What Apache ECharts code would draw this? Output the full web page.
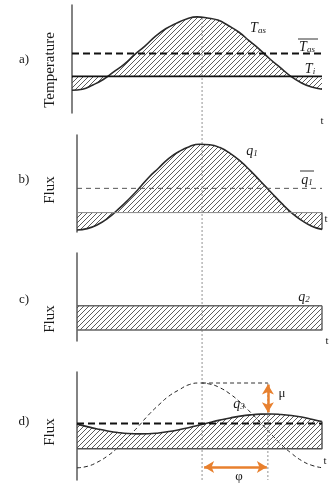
<!DOCTYPE html>
<html>
<head>
<meta charset="utf-8">
<script src="https://cdn.jsdelivr.net/npm/echarts@6/dist/echarts.min.js"></script>
<style>
  html, body { margin: 0; padding: 0; background: #ffffff; }
  #chart { width: 330px; height: 488px; }
</style>
</head>
<body>
<div id="chart"></div>
<script>
// time axis, hours of the day
const hours = [0, 1, 2, 3, 4, 5, 6, 7, 8, 9, 10, 11, 12, 13, 14, 15, 16, 17, 18, 19, 20, 21, 22, 23, 24];

// a) outside surface temperature T_as
const tasValues = [21, 22, 26, 31, 38, 45, 54, 62, 71, 78, 83, 87, 89, 88, 86, 81, 75, 67, 59, 50, 42, 34, 28, 24, 22];
const tiLevel = 34;
const tasMean = 55;

// b) flux q1
const q1Values = [2, 3.5, 7.5, 14, 23, 33, 44, 56, 66, 76, 83, 88, 90.5, 90, 87, 81, 73, 63, 52, 41, 30, 20, 12, 6, 2.7];
const q1Base = 20;
const q1Mean = 45;

// c) constant flux q2
const q2Level = 40;
const q2Base = 12.5;

// d) q1 (dashed, for reference) and damped / delayed flux q3
const q1Ref = [8.6, 10, 14, 20, 28, 38, 48, 59, 68.5, 77, 83, 88, 89.5, 88.5, 85, 79, 71, 61.5, 51.5, 41, 31, 22.5, 15.5, 11, 8.7];
const q3Values = [50.3, 47.9, 45.7, 43.8, 42.3, 41.3, 41, 41.1, 41.9, 43.2, 45, 47.1, 49.4, 51.8, 54.1, 56.2, 57.9, 59.1, 59.8, 60, 59.5, 58.5, 57, 55, 52.8];
const q3Base = 26.7;
const q3Mean = 51;
const peakHour = 12.25;
const q3PeakHour = 18.7;
const phaseArrowLevel = 9.5;

const orange = '#e8802e';
const serif = '"Liberation Serif", "DejaVu Serif", serif';

function hatch() {
  const c = document.createElement('canvas');
  c.width = 5;
  c.height = 5;
  const ctx = c.getContext('2d');
  ctx.strokeStyle = '#4a4a4a';
  ctx.lineWidth = 0.9;
  ctx.beginPath();
  ctx.moveTo(0, 5); ctx.lineTo(5, 0);
  ctx.moveTo(-1, 1); ctx.lineTo(1, -1);
  ctx.moveTo(4, 6); ctx.lineTo(6, 4);
  ctx.stroke();
  return { image: c, repeat: 'repeat' };
}
const hatchFill = hatch();

const pairs = (vals) => hours.map((h, i) => [h, vals[i]]);
const flat = (v) => [[hours[0], v], [hours[hours.length - 1], v]];
const lastHour = hours[hours.length - 1];

function grid(top, height, left) {
  return { left: left, right: 8, top: top, height: height };
}
function xAx(i) {
  return { gridIndex: i, type: 'value', min: hours[0], max: lastHour, show: false };
}
function yAx(i, min, max, showLine) {
  return {
    gridIndex: i, type: 'value', min: min, max: max,
    axisLine: { show: showLine, lineStyle: { color: '#5a5a5a', width: 1.5 } },
    axisTick: { show: false }, axisLabel: { show: false }, splitLine: { show: false }
  };
}
function line(i, data, style, extra) {
  return Object.assign({
    type: 'line', xAxisIndex: i, yAxisIndex: i, data: data,
    symbol: 'none', silent: true, animation: false,
    lineStyle: style
  }, extra || {});
}

const q3Top = Math.max(...q1Ref);
const q3Peak = Math.max(...q3Values);

const txt = (x, y, text, size, extra) => ({
  type: 'text', x: x, y: y, silent: true,
  style: Object.assign({
    text: text, font: size + 'px ' + serif, fill: '#1a1a1a',
    textAlign: 'center', textVerticalAlign: 'middle'
  }, extra || {})
});
const vtxt = (x, y, text) => Object.assign(txt(x, y, text, 15), { rotation: Math.PI / 2 });
const sub = {
  t: { fontFamily: serif, fontStyle: 'italic', fontSize: 14, color: '#1a1a1a', verticalAlign: 'bottom', lineHeight: 16 },
  s: { fontFamily: serif, fontStyle: 'italic', fontSize: 9, color: '#1a1a1a', verticalAlign: 'bottom', lineHeight: 12 }
};
const bar = (x1, x2, y) => ({
  type: 'line', silent: true, shape: { x1: x1, y1: y, x2: x2, y2: y },
  style: { stroke: '#333', lineWidth: 1 }
});

const chart = echarts.init(document.getElementById('chart'), null, { renderer: 'canvas' });
chart.setOption({
  animation: false,
  backgroundColor: '#ffffff',
  grid: [
    grid(5, 108, 72),
    grid(135, 97, 77),
    grid(253, 88, 77),
    grid(372, 108, 77),
    grid(17, 463, 77)
  ],
  xAxis: [xAx(0), xAx(1), xAx(2), xAx(3), xAx(4)],
  yAxis: [
    yAx(0, 0, 100, true),
    yAx(1, 0, 100, true),
    yAx(2, 0, 100, true),
    yAx(3, -3, 100, true),
    yAx(4, 0, 1, false)
  ],
  series: [
    // long dotted reference line through all panels
    line(4, [[peakHour, 0], [peakHour, 1]], { color: '#777', width: 0.8, type: [2, 2] }),

    // a)
    line(0, pairs(tasValues), { color: '#2a2a2a', width: 1.6 },
      { smooth: true, areaStyle: { color: hatchFill, opacity: 1, origin: tiLevel } }),
    line(0, flat(tiLevel), { color: '#111', width: 1.8 }),
    line(0, flat(tasMean), { color: '#111', width: 2, type: [7, 4] }),

    // b)
    line(1, pairs(q1Values), { color: '#2a2a2a', width: 1.6 },
      { smooth: true, areaStyle: { color: hatchFill, opacity: 1, origin: q1Base } }),
    line(1, flat(q1Base), { color: '#888', width: 1 }),
    line(1, flat(q1Mean), { color: '#555', width: 1, type: [5, 4] }),
    line(1, [[lastHour, q1Base], [lastHour, q1Values[q1Values.length - 1]]], { color: '#333', width: 1.2 }),

    // c)
    line(2, flat(q2Level), { color: '#666', width: 1.5 },
      { areaStyle: { color: hatchFill, opacity: 1, origin: q2Base } }),
    line(2, [[hours[0], q2Base], [lastHour, q2Base], [lastHour, q2Level]], { color: '#666', width: 1.5 }),

    // d)
    line(3, pairs(q1Ref), { color: '#222', width: 1, type: [4, 3] }, { smooth: true }),
    line(3, pairs(q3Values), { color: '#2a2a2a', width: 1.6 },
      { smooth: true, areaStyle: { color: hatchFill, opacity: 1, origin: q3Base } }),
    line(3, [[hours[0], q3Base], [lastHour, q3Base], [lastHour, q3Values[q3Values.length - 1]]], { color: '#555', width: 1.5 }),
    line(3, flat(q3Mean), { color: '#111', width: 2, type: [7, 4] }),
    line(3, [[peakHour, q3Top], [q3PeakHour, q3Top]], { color: '#333', width: 1, type: [4, 3] }),
    line(3, [[q3PeakHour, q3Top], [q3PeakHour, -3]], { color: '#777', width: 0.8, type: [2, 2] }, {
      markLine: {
        silent: true, animation: false,
        symbol: ['arrow', 'arrow'], symbolSize: [9, 10],
        label: { show: false },
        lineStyle: { color: orange, width: 2.5, type: 'solid' },
        data: [
          [{ coord: [q3PeakHour, q3Top - 1.5] }, { coord: [q3PeakHour, q3Peak + 1.5] }],
          [{ coord: [peakHour + 0.2, phaseArrowLevel] }, { coord: [q3PeakHour - 0.1, phaseArrowLevel] }]
        ]
      }
    })
  ],
  graphic: [
    txt(24, 60, 'a)', 13),
    txt(24, 180, 'b)', 13),
    txt(24, 300, 'c)', 13),
    txt(24, 422, 'd)', 13),
    vtxt(50, 70, 'Temperature'),
    vtxt(50, 190, 'Flux'),
    vtxt(50, 319, 'Flux'),
    vtxt(50, 432, 'Flux'),

    txt(258, 27, '{t|T}{s|as}', 14, { rich: sub }),
    txt(307, 46, '{t|T}{s|as}', 14, { rich: sub }),
    bar(298, 318, 39),
    txt(310, 68, '{t|T}{s|i}', 14, { rich: sub }),
    txt(322, 121, 't', 11),

    txt(252, 150, '{t|q}{s|1}', 14, { rich: sub }),
    txt(307, 179, '{t|q}{s|1}', 14, { rich: sub }),
    bar(300, 314, 171),
    txt(326, 219, 't', 11),

    txt(304, 296, '{t|q}{s|2}', 14, { rich: sub }),
    txt(327, 341, 't', 11),

    txt(239, 403, '{t|q}{s|3}', 14, { rich: sub }),
    txt(282, 394, 'μ', 13),
    txt(239, 477, 'φ', 13),
    txt(325, 461, 't', 11)
  ]
});
</script>
</body>
</html>
